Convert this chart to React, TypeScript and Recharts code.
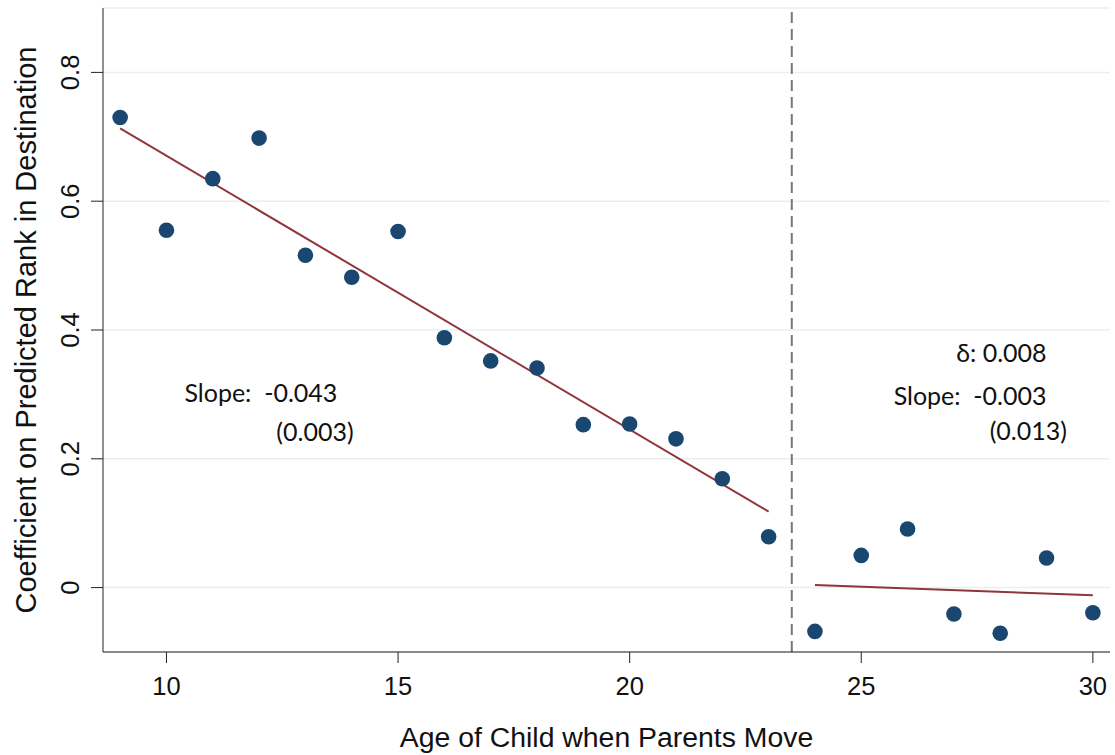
import {
  ComposedChart,
  Scatter,
  XAxis,
  YAxis,
  CartesianGrid,
  ReferenceLine,
  ReferenceDot,
} from "recharts";

const ages = [9, 10, 11, 12, 13, 14, 15, 16, 17, 18, 19, 20, 21, 22, 23, 24, 25, 26, 27, 28, 29, 30];
const coefs = [
  0.73, 0.555, 0.635, 0.698, 0.516, 0.482, 0.553, 0.388, 0.352, 0.341, 0.253, 0.254, 0.231, 0.169,
  0.079, -0.068, 0.05, 0.091, -0.041, -0.071, 0.046, -0.039,
];

const leftFitAges = [9, 23];
const leftFitValues = [0.713, 0.118];
const rightFitAges = [24, 30];
const rightFitValues = [0.004, -0.012];

const xTicks = [10, 15, 20, 25, 30];
const yTicks = [0, 0.2, 0.4, 0.6, 0.8];
const cutoffAge = 23.5;

const points = ages.map((age, i) => ({ age, coef: coefs[i] }));
const leftFit = leftFitAges.map((age, i) => ({ age, coef: leftFitValues[i] }));
const rightFit = rightFitAges.map((age, i) => ({ age, coef: rightFitValues[i] }));

const NAVY = "#1a476f";
const MAROON = "#90353b";
const AXIS_FONT = "'Liberation Sans', Arial, sans-serif";
const NOTE_FONT = "Lato, 'Open Sans', sans-serif";

const YTick = (props: any) => {
  const { y, payload } = props;
  return (
    <text
      x={70}
      y={y}
      transform={`rotate(-90, 70, ${y})`}
      textAnchor="middle"
      dominantBaseline="central"
      fontSize={25.5}
      fontFamily={AXIS_FONT}
      fill="#111"
    >
      {payload.value}
    </text>
  );
};

const YTitle = (props: any) => {
  const { viewBox } = props;
  const cx = 26;
  const cy = viewBox.y + viewBox.height / 2;
  return (
    <text
      x={cx}
      y={cy}
      transform={`rotate(-90, ${cx}, ${cy})`}
      textAnchor="middle"
      dominantBaseline="central"
      fontSize={29}
      fontFamily={AXIS_FONT}
      fill="#111"
    >
      Coefficient on Predicted Rank in Destination
    </text>
  );
};

const note = (text: string) => (props: any) => {
  const { viewBox } = props;
  return (
    <text
      x={viewBox.x}
      y={viewBox.y}
      textAnchor="end"
      dominantBaseline="central"
      fontSize={25}
      fontFamily={NOTE_FONT}
      fill="#111"
      style={{ whiteSpace: "pre" }}
    >
      {text}
    </text>
  );
};

const Dot = (props: any) => <circle cx={props.cx} cy={props.cy} r={7.8} fill={NAVY} />;

export default function App() {
  return (
    <div style={{ position: "absolute", left: 0, top: 0, background: "#fff" }}>
      <ComposedChart width={1115} height={755} margin={{ top: 8, right: 5, bottom: 0, left: 0 }}>
        <CartesianGrid vertical={false} stroke="#e6f0f2" strokeWidth={1.5} />
        <XAxis
          dataKey="age"
          type="number"
          domain={[8.63, 30.37]}
          ticks={xTicks}
          allowDataOverflow
          height={103}
          tickSize={11}
          tickMargin={14}
          stroke="#222"
          tick={{ fontSize: 25.5, fill: "#111", fontFamily: AXIS_FONT }}
          label={{
            value: "Age of Child when Parents Move",
            position: "insideBottom",
            offset: 8,
            fontSize: 28.4,
            fill: "#111",
            fontFamily: AXIS_FONT,
          }}
        />
        <YAxis
          dataKey="coef"
          type="number"
          domain={[-0.1, 0.9]}
          ticks={yTicks}
          allowDataOverflow
          width={103}
          tickSize={12}
          stroke="#222"
          tick={<YTick />}
          label={<YTitle />}
        />
        <ReferenceLine x={cutoffAge} stroke="#777" strokeWidth={2} strokeDasharray="11 6" />
        <Scatter
          data={leftFit}
          line={{ stroke: MAROON, strokeWidth: 2 }}
          shape={() => null}
          isAnimationActive={false}
        />
        <Scatter
          data={rightFit}
          line={{ stroke: MAROON, strokeWidth: 2 }}
          shape={() => null}
          isAnimationActive={false}
        />
        <Scatter data={points} shape={<Dot />} isAnimationActive={false} />
        <ReferenceDot x={13.69} y={0.303} r={0} label={note("Slope:  -0.043")} />
        <ReferenceDot x={14.04} y={0.243} r={0} label={note("(0.003)")} />
        <ReferenceDot x={29.0} y={0.366} r={0} label={note("δ: 0.008")} />
        <ReferenceDot x={29.0} y={0.299} r={0} label={note("Slope:  -0.003")} />
        <ReferenceDot x={29.44} y={0.245} r={0} label={note("(0.013)")} />
      </ComposedChart>
    </div>
  );
}
